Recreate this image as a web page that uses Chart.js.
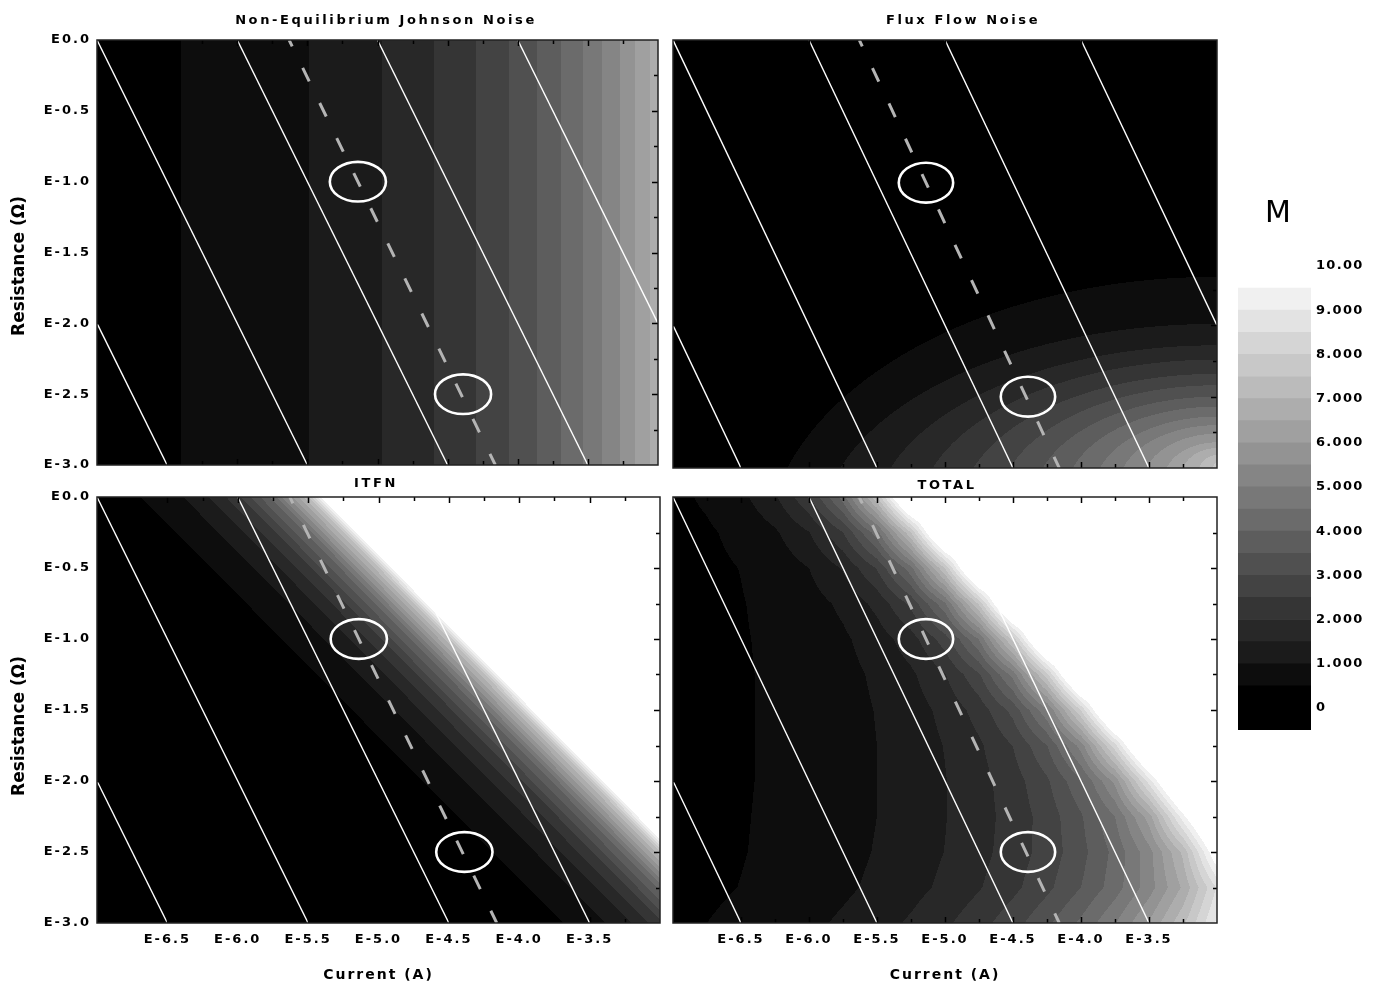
<!DOCTYPE html>
<html>
<head>
<meta charset="utf-8">
<title>Noise maps</title>
<script src="https://cdn.jsdelivr.net/npm/chart.js@4.4.1/dist/chart.umd.min.js"></script>
<style>
  html, body { margin: 0; padding: 0; background: #fff; }
  body { width: 1378px; height: 985px; position: relative; overflow: hidden; }
  canvas { position: absolute; }
</style>
</head>
<body>
<canvas id="johnson" width="665" height="480" style="left:0px;top:0px"></canvas>
<canvas id="flux" width="560" height="480" style="left:665px;top:0px"></canvas>
<canvas id="itfn" width="665" height="509" style="left:0px;top:476px"></canvas>
<canvas id="total" width="560" height="509" style="left:665px;top:476px"></canvas>
<canvas id="colorbar" width="153" height="560" style="left:1225px;top:190px"></canvas>
<script>
// grid the maps were read on (log10 of current and resistance)
const currentLog = [-7, -6.75, -6.5, -6.25, -6, -5.75, -5.5, -5.25, -5, -4.75, -4.5, -4.25, -4, -3.75, -3.5, -3.25, -3];
const resistanceLog = [0, -0.25, -0.5, -0.75, -1, -1.25, -1.5, -1.75, -2, -2.25, -2.5, -2.75, -3];

const currentTicks = [-6.5, -6, -5.5, -5, -4.5, -4, -3.5];
const currentTickLabels = ['E-6.5', 'E-6.0', 'E-5.5', 'E-5.0', 'E-4.5', 'E-4.0', 'E-3.5'];
const resistanceTicks = [0, -0.5, -1, -1.5, -2, -2.5, -3];
const resistanceTickLabels = ['E0.0', 'E-0.5', 'E-1.0', 'E-1.5', 'E-2.0', 'E-2.5', 'E-3.0'];

// Johnson noise only changes with current
const johnsonNoise = [0.31, 0.38, 0.46, 0.56, 0.68, 0.82, 0.99, 1.20, 1.46, 1.77, 2.14, 2.59, 3.14, 3.80, 4.61, 5.58, 6.76];

// ITFN only changes with log(I*R)
const itfnVoltageLog = [-8, -7.75, -7.5, -7.25, -7, -6.75, -6.5, -6.25, -6, -5.75, -5.5, -5.25, -5];
const itfnNoise = [0, 0.04, 0.07, 0.13, 0.23, 0.42, 0.74, 1.32, 2.34, 4.17, 7.41, 13.2, 23.4];

// flux flow noise: each contour level and where it meets the bottom edge (R = E-3.0)
// and the right edge (I = E-3.0)
const fluxLevels = [0.5, 1, 1.5, 2, 2.5, 3, 3.5, 4, 4.5, 5, 5.5, 6, 6.5, 7, 7.5, 8];
const fluxEdgeCurrent = [-6.16, -5.77, -5.40, -5.09, -4.79, -4.52, -4.28, -4.06, -3.86, -3.69, -3.52, -3.37, -3.25, -3.13, -3.03, -3.01];
const fluxEdgeResistance = [-1.66, -1.99, -2.14, -2.24, -2.34, -2.42, -2.50, -2.57, -2.64, -2.70, -2.76, -2.82, -2.86, -2.91, -2.96, -2.98];

// rows follow resistanceLog, columns follow currentLog
const totalNoise = [
  [0.39, 0.57, 0.87, 1.43, 2.44, 4.25, 7.48, 12, 12, 12, 12, 12, 12, 12, 12, 12, 12],
  [0.34, 0.44, 0.62, 0.93, 1.48, 2.48, 4.29, 7.51, 12, 12, 12, 12, 12, 12, 12, 12, 12],
  [0.32, 0.40, 0.51, 0.70, 1.00, 1.55, 2.54, 4.34, 7.55, 12, 12, 12, 12, 12, 12, 12, 12],
  [0.31, 0.39, 0.48, 0.61, 0.80, 1.10, 1.65, 2.63, 4.42, 7.62, 12, 12, 12, 12, 12, 12, 12],
  [0.31, 0.38, 0.47, 0.57, 0.72, 0.92, 1.24, 1.78, 2.76, 4.53, 7.71, 12, 12, 12, 12, 12, 12],
  [0.31, 0.38, 0.46, 0.56, 0.69, 0.85, 1.08, 1.41, 1.97, 2.93, 4.69, 7.85, 12, 12, 12, 12, 12],
  [0.31, 0.38, 0.46, 0.56, 0.68, 0.83, 1.02, 1.27, 1.64, 2.21, 3.17, 4.91, 8.05, 12, 12, 12, 12],
  [0.31, 0.38, 0.46, 0.56, 0.68, 0.82, 1.00, 1.22, 1.52, 1.92, 2.51, 3.49, 5.22, 8.33, 12, 12, 12],
  [0.31, 0.38, 0.46, 0.56, 0.68, 0.82, 1.00, 1.21, 1.48, 1.82, 2.27, 2.92, 3.93, 5.65, 8.73, 12, 12],
  [0.31, 0.38, 0.47, 0.57, 0.69, 0.83, 1.00, 1.22, 1.48, 1.80, 2.20, 2.72, 3.44, 4.50, 6.25, 9.31, 12],
  [0.32, 0.39, 0.48, 0.58, 0.70, 0.85, 1.03, 1.24, 1.51, 1.84, 2.23, 2.71, 3.33, 4.15, 5.31, 7.12, 10.19],
  [0.34, 0.42, 0.51, 0.62, 0.75, 0.91, 1.10, 1.33, 1.61, 1.96, 2.37, 2.88, 3.50, 4.26, 5.26, 6.59, 8.55],
  [0.41, 0.50, 0.61, 0.74, 0.89, 1.08, 1.30, 1.57, 1.91, 2.31, 2.80, 3.39, 4.10, 4.97, 6.05, 7.38, 9.10]
];

// white constant-power lines, dashed optimum line and the two marked points
const powerLineTop = [[-7, -2], [-7, 0], [-6, 0], [-5, 0], [-4, 0]];
const powerLineBottom = [[-6.5, -3], [-5.5, -3], [-4.5, -3], [-3.5, -3], [-3, -2]];
const optimumLine = [[-5.63, 0], [-4.16, -3]];
const markerCurrent = [-5.14, -4.39];
const markerResistance = [-1.0, -2.5];

// colour scale
const colorbarEdges = [-0.5, 0.5, 1, 1.5, 2, 2.5, 3, 3.5, 4, 4.5, 5, 5.5, 6, 6.5, 7, 7.5, 8, 8.5, 9, 9.5];
const colorbarTicks = [0, 1, 2, 3, 4, 5, 6, 7, 8, 9, 10];
const colorbarLabels = ['0', '1.000', '2.000', '3.000', '4.000', '5.000', '6.000', '7.000', '8.000', '9.000', '10.00'];

const FONT = '"DejaVu Sans", "Liberation Sans", Arial, sans-serif';
const markerHalfWidth = 0.2;
const markerHalfHeight = 0.14;
const contourDrop = 0.45; // flux contour centres sit this share of their height below the bottom edge

function bandGray(v) {
  const j = Math.floor(v / 0.5);
  if (j <= 0) return 0;
  if (j >= 19) return 255;
  return Math.round(j * 13.33);
}

function lerp1(xs, vs, x) {
  if (x <= xs[0]) return vs[0];
  if (x >= xs[xs.length - 1]) return vs[vs.length - 1];
  let i = 0;
  while (x > xs[i + 1]) i++;
  const t = (x - xs[i]) / (xs[i + 1] - xs[i]);
  return vs[i] + t * (vs[i + 1] - vs[i]);
}

function gridValue(grid, x, y) {
  let i = 0, j = 0;
  while (i < currentLog.length - 2 && x > currentLog[i + 1]) i++;
  while (j < resistanceLog.length - 2 && y < resistanceLog[j + 1]) j++;
  const tx = Math.min(1, Math.max(0, (x - currentLog[i]) / (currentLog[i + 1] - currentLog[i])));
  const ty = Math.min(1, Math.max(0, (y - resistanceLog[j]) / (resistanceLog[j + 1] - resistanceLog[j])));
  return grid[j][i] * (1 - tx) * (1 - ty) + grid[j][i + 1] * tx * (1 - ty) +
         grid[j + 1][i] * (1 - tx) * ty + grid[j + 1][i + 1] * tx * ty;
}

// flux band: innermost elliptic contour (through its two edge crossings) that holds the point
const fluxShapes = fluxLevels.map((lvl, k) => {
  const cx = currentLog[currentLog.length - 1];
  const edge = resistanceLog[resistanceLog.length - 1];
  const cy = edge - contourDrop * (fluxEdgeResistance[k] - edge);
  const b = fluxEdgeResistance[k] - cy;
  const off = (edge - cy) / b;
  const a = (cx - fluxEdgeCurrent[k]) / Math.sqrt(1 - off * off);
  return { lvl, cx, cy, a, b };
});

function fluxValue(x, y) {
  let v = 0;
  fluxShapes.forEach(s => {
    const ex = (s.cx - x) / s.a, ey = (y - s.cy) / s.b;
    if (ex * ex + ey * ey <= 1) v = s.lvl + 0.25;
  });
  return v;
}

// filled contour bands, sampled through the chart scales
function contourPlugin(valueAt) {
  return {
    id: 'contour',
    beforeDatasetsDraw(chart) {
      const { ctx, chartArea: a, scales: { x, y } } = chart;
      const w = Math.round(a.right - a.left), h = Math.round(a.bottom - a.top);
      const img = ctx.createImageData(w, h);
      const xs = [], ys = [];
      for (let i = 0; i < w; i++) xs.push(x.getValueForPixel(a.left + i + 0.5));
      for (let j = 0; j < h; j++) ys.push(y.getValueForPixel(a.top + j + 0.5));
      let k = 0;
      for (let j = 0; j < h; j++) {
        for (let i = 0; i < w; i++) {
          const g = bandGray(valueAt(xs[i], ys[j]));
          img.data[k] = g; img.data[k + 1] = g; img.data[k + 2] = g; img.data[k + 3] = 255;
          k += 4;
        }
      }
      ctx.putImageData(img, Math.round(a.left), Math.round(a.top));
    }
  };
}

function spacedText(px) {
  return {
    id: 'spacedText',
    beforeDraw(chart) { chart.ctx.letterSpacing = px + 'px'; },
    afterDraw(chart) { chart.ctx.letterSpacing = '0px'; }
  };
}

function decorPlugin(p) {
  return {
    id: 'decor',
    afterDatasetsDraw(chart) {
      const { ctx, chartArea: a, scales: { x, y } } = chart;
      ctx.save();
      ctx.beginPath();
      ctx.rect(a.left, a.top, a.right - a.left, a.bottom - a.top);
      ctx.clip();
      ctx.strokeStyle = '#fff';
      ctx.lineWidth = 2.6;
      markerCurrent.forEach((mx, k) => {
        const my = markerResistance[k];
        const px = x.getPixelForValue(mx), py = y.getPixelForValue(my);
        const rx = Math.abs(x.getPixelForValue(mx + markerHalfWidth) - px);
        const ry = Math.abs(y.getPixelForValue(my + markerHalfHeight) - py);
        ctx.beginPath();
        ctx.ellipse(px, py, rx, ry, 0, 0, 2 * Math.PI);
        ctx.stroke();
      });
      // small inward ticks
      ctx.strokeStyle = '#000';
      ctx.lineWidth = 1.5;
      ctx.beginPath();
      currentLog.slice(1, -1).forEach(v => {
        const px = Math.round(x.getPixelForValue(v)) + 0.5;
        const len = (v * 2) % 1 === 0 ? 6 : 4;
        ctx.moveTo(px, a.top); ctx.lineTo(px, a.top + len);
        ctx.moveTo(px, a.bottom); ctx.lineTo(px, a.bottom - len);
      });
      resistanceLog.slice(1, -1).forEach(v => {
        const py = Math.round(y.getPixelForValue(v)) + 0.5;
        const len = (v * 2) % 1 === 0 ? 6 : 4;
        ctx.moveTo(a.left, py); ctx.lineTo(a.left + len, py);
        ctx.moveTo(a.right, py); ctx.lineTo(a.right - len, py);
      });
      ctx.stroke();
      ctx.restore();
      ctx.save();
      ctx.strokeStyle = '#222';
      ctx.lineWidth = 1.5;
      ctx.strokeRect(a.left, a.top, a.right - a.left, a.bottom - a.top);
      ctx.restore();
    },
    afterDraw(chart) {
      const ctx = chart.ctx;
      ctx.save();
      ctx.fillStyle = '#000';
      ctx.textAlign = 'center';
      ctx.textBaseline = 'middle';
      ctx.font = 'bold 13px ' + FONT;
      ctx.letterSpacing = '2.6px';
      ctx.fillText(p.title, p.titleX, p.titleY);
      if (p.yTitleY) {
        ctx.translate(20, p.yTitleY);
        ctx.rotate(-Math.PI / 2);
        ctx.font = 'bold 17px ' + FONT;
        ctx.letterSpacing = '0px';
        ctx.fillText('Resistance (\u03A9)', 0, 0);
      }
      ctx.restore();
    }
  };
}

const panels = [
  { id: 'johnson', title: 'Non-Equilibrium Johnson Noise', titleX: 386, titleY: 21, yTitleY: 266,
    padTop: 40, padRight: 7, yWidth: 97, xHeight: 15, showX: false, showY: true,
    value: (x, y) => lerp1(currentLog, johnsonNoise, x) },
  { id: 'flux', title: 'Flux Flow Noise', titleX: 298, titleY: 21, yTitleY: 0,
    padTop: 40, padRight: 8, yWidth: 8, xHeight: 12, showX: false, showY: false,
    value: fluxValue },
  { id: 'itfn', title: 'ITFN', titleX: 376, titleY: 8, yTitleY: 250,
    padTop: 21, padRight: 5, yWidth: 97, xHeight: 62, showX: true, showY: true,
    value: (x, y) => lerp1(itfnVoltageLog, itfnNoise, x + y) },
  { id: 'total', title: 'TOTAL', titleX: 282, titleY: 10, yTitleY: 0,
    padTop: 21, padRight: 8, yWidth: 8, xHeight: 62, showX: true, showY: false,
    value: (x, y) => gridValue(totalNoise, x, y) }
];

function toPoints(pair) {
  return pair.map(pt => ({ x: pt[0], y: pt[1] }));
}

panels.forEach(p => {
  const datasets = powerLineTop.map((top, k) => ({
    data: toPoints([top, powerLineBottom[k]]),
    showLine: true, borderColor: '#ffffff', borderWidth: 1.4, pointRadius: 0
  }));
  datasets.push({
    data: toPoints(optimumLine),
    showLine: true, borderColor: '#b4b4b4', borderWidth: 3,
    borderDash: [15, 24], borderDashOffset: 8, borderCapStyle: 'butt', pointRadius: 0
  });

  new Chart(document.getElementById(p.id), {
    type: 'scatter',
    data: { datasets },
    options: {
      responsive: false,
      animation: false,
      events: [],
      layout: { padding: { top: p.padTop, right: p.padRight, left: 0, bottom: 0 } },
      plugins: { legend: { display: false }, tooltip: { enabled: false } },
      scales: {
        x: {
          type: 'linear', min: -7, max: -3,
          grid: { display: false, drawTicks: false },
          border: { display: false },
          afterBuildTicks: s => { s.ticks = currentTicks.map(v => ({ value: v })); },
          afterFit: s => { s.height = p.xHeight; },
          ticks: {
            display: p.showX, padding: 9, color: '#000', maxRotation: 0, autoSkip: false,
            font: { family: FONT, size: 13, weight: 'bold' },
            callback: (v, i) => currentTickLabels[i]
          },
          title: {
            display: p.showX, text: 'Current (A)', color: '#000',
            font: { family: FONT, size: 14, weight: 'bold' },
            padding: { top: 0, bottom: 1 }
          }
        },
        y: {
          type: 'linear', min: -3, max: 0,
          grid: { display: false, drawTicks: false },
          border: { display: false },
          afterBuildTicks: s => { s.ticks = resistanceTicks.map(v => ({ value: v })); },
          afterFit: s => { s.width = p.yWidth; },
          ticks: {
            display: p.showY, padding: 6, color: '#000', autoSkip: false,
            font: { family: FONT, size: 13, weight: 'bold' },
            callback: (v, i) => resistanceTickLabels[i]
          }
        }
      }
    },
    plugins: [spacedText(2), contourPlugin(p.value), decorPlugin(p)]
  });
});

// colour bar
const bandSets = colorbarEdges.slice(0, -1).map((lo, k) => {
  const hi = colorbarEdges[k + 1];
  const g = bandGray((lo + hi) / 2);
  return {
    data: [[lo, hi]],
    backgroundColor: 'rgb(' + g + ',' + g + ',' + g + ')',
    borderWidth: 0, grouped: false, barPercentage: 1, categoryPercentage: 1
  };
});

new Chart(document.getElementById('colorbar'), {
  type: 'bar',
  data: { labels: ['M'], datasets: bandSets },
  options: {
    responsive: false,
    animation: false,
    events: [],
    layout: { padding: { left: 13, top: 76, bottom: 20, right: 0 } },
    plugins: { legend: { display: false }, tooltip: { enabled: false } },
    scales: {
      x: { display: false },
      y: {
        position: 'right', min: -0.5, max: 10,
        grid: { display: false, drawTicks: false },
        border: { display: false },
        afterBuildTicks: s => { s.ticks = colorbarTicks.map(v => ({ value: v })); },
        afterFit: s => { s.width = 67; },
        ticks: {
          padding: 5, color: '#000', autoSkip: false,
          font: { family: FONT, size: 13, weight: 'bold' },
          callback: (v, i) => colorbarLabels[i]
        }
      }
    }
  },
  plugins: [spacedText(1.3), {
    id: 'unitTitle',
    afterDraw(chart) {
      const ctx = chart.ctx;
      ctx.save();
      ctx.fillStyle = '#000';
      ctx.font = '30px ' + FONT;
      ctx.letterSpacing = '0px';
      ctx.textAlign = 'center';
      ctx.textBaseline = 'middle';
      ctx.fillText('M', 53, 24);
      ctx.restore();
    }
  }]
});
</script>
</body>
</html>
